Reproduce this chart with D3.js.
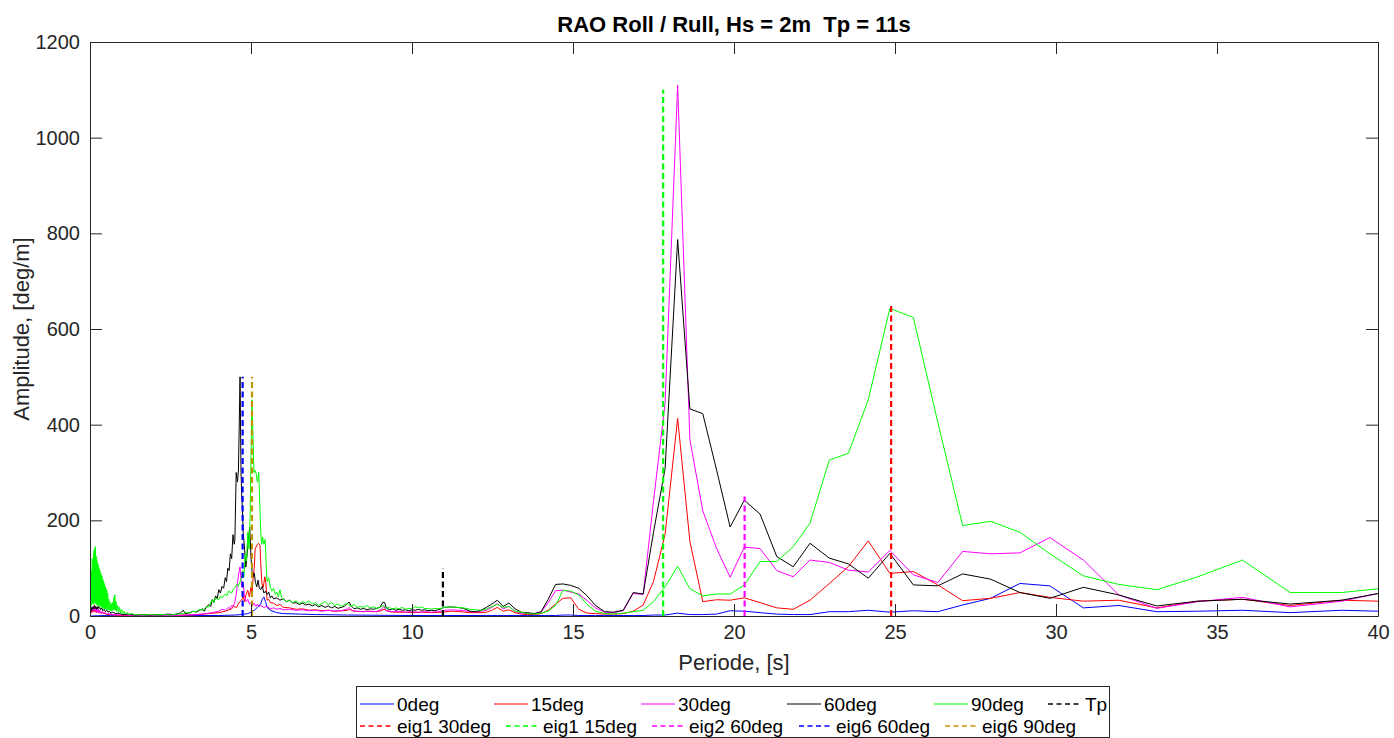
<!DOCTYPE html>
<html>
<head>
<meta charset="utf-8">
<script src="https://cdn.jsdelivr.net/npm/d3@7"></script>
<style>
  body { margin: 0; background: #fff; }
  svg { display: block; font-family: "Liberation Sans", Arial, Helvetica, sans-serif; }
</style>
</head>
<body>
<svg id="chart" width="1394" height="738"></svg>
<script>
// ---- Response amplitude data, roll, Hs = 2 m, Tp = 11 s ----
// Coarse period grid used above ~12 s (long periods)
const periodCoarse = [12.31, 12.48, 12.65, 12.83, 13.01, 13.20, 13.39, 13.59, 13.80, 14.01,
  14.23, 14.46, 14.69, 14.93, 15.18, 15.44, 15.70, 15.98, 16.26, 16.56,
  16.87, 17.18, 17.50, 17.86, 18.25, 18.63, 19.03, 19.46, 19.88, 20.32,
  20.81, 21.33, 21.84, 22.36, 22.96, 23.55, 24.17, 24.84, 25.57, 26.33,
  27.10, 27.97, 28.88, 29.81, 30.85, 31.95, 33.13, 34.40, 35.79, 37.27,
  38.87, 40.00];

const deg0Coarse = [1, 1, 1, 1, 1, 1, 1, 1, 1, 1,
  1, 1, 2, 2, 1, 1, 1, 1, 1, 1,
  1, 1, 2, 2, 6, 3, 3, 4, 11, 10,
  7, 4, 3, 3, 9, 9, 12, 8, 11, 9,
  23, 37, 68, 63, 17, 22, 9, 10, 12, 7,
  12, 10];
const deg15Coarse = [8, 12, 18, 10, 13, 7, 4, 3, 3, 5,
  12, 25, 37, 38, 14, 6, 5, 4, 4, 5,
  10, 23, 72, 171, 413, 156, 30, 34, 33, 38,
  28, 17, 14, 33, 68, 103, 157, 89, 93, 65,
  32, 37, 49, 39, 31, 33, 17, 31, 35, 22,
  33, 31];
const deg30Coarse = [12, 18, 26, 15, 20, 10, 6, 5, 5, 8,
  28, 53, 54, 50, 46, 32, 17, 8, 7, 11,
  47, 45, 240, 445, 1110, 369, 220, 141, 81, 144,
  141, 95, 82, 117, 112, 96, 92, 137, 86, 70,
  135, 130, 132, 164, 117, 44, 16, 30, 39, 19,
  31, 47];
const deg60Coarse = [18, 25, 33, 20, 27, 15, 8, 7, 5, 9,
  35, 66, 67, 64, 58, 42, 22, 9, 8, 12,
  49, 46, 175, 308, 787, 433, 423, 305, 186, 242,
  213, 124, 103, 152, 121, 109, 79, 131, 65, 63,
  88, 77, 49, 37, 60, 44, 21, 31, 35, 25,
  33, 47];
const deg90Coarse = [14, 20, 24, 18, 20, 10, 8, 5, 4, 6,
  10, 22, 54, 52, 44, 24, 10, 5, 4, 6,
  9, 12, 30, 61, 104, 57, 42, 46, 46, 65,
  114, 114, 145, 194, 326, 340, 452, 643, 624, 405,
  189, 198, 175, 130, 84, 66, 55, 82, 117, 49,
  49, 57];

// Dense [period, amplitude] samples below ~12 s (short periods)
const deg0Dense = [[0.04,0],[0.5,1],[1,0],[2,1],[3,1],[4,1],[4.5,2],[4.7,3],[4.9,5],[5.0,8],
  [5.1,12],[5.2,18],[5.3,25],[5.35,35],[5.4,40],[5.45,30],[5.5,18],[5.6,12],[5.8,7],[6.0,5],
  [6.5,4],[7,3],[8,2],[10,1],[12.14,1]];

const deg15Dense = [[0.04,6],[0.06,14],[0.08,8],[0.10,16],[0.12,9],[0.14,15],[0.16,8],[0.18,13],
  [0.20,7],[0.24,11],[0.28,6],[0.32,9],[0.36,5],[0.4,7],[0.5,4],[0.6,3],[0.8,2],[1.0,1],[2,1],
  [3,2],[3.4,3],[3.7,5],[4.0,7],[4.2,10],[4.4,15],[4.45,20],[4.55,18],[4.6,25],[4.66,30],
  [4.72,35],[4.76,41],[4.8,30],[4.85,45],[4.9,54],[4.95,40],[5.0,60],[5.03,45],[5.07,82],
  [5.1,100],[5.13,140],[5.18,148],[5.23,152],[5.28,148],[5.31,100],[5.34,68],[5.38,60],
  [5.43,82],[5.46,70],[5.5,33],[5.55,35],[5.6,28],[5.7,27],[5.8,22],[5.9,24],[6.0,18],
  [6.2,17],[6.4,14],[6.6,15],[6.8,12],[7.0,13],[7.2,11],[7.4,12],[7.6,10],[7.8,11],[8.0,12],
  [8.05,14],[8.2,10],[8.4,9],[8.6,10],[8.8,9],[9.0,10],[9.13,14],[9.3,9],[9.5,8],[9.8,8],
  [10.0,7],[10.3,8],[10.6,7],[10.9,8],[11.2,10],[11.5,9],[11.8,7],[12.14,7]];

const deg30Dense = [[0.04,8],[0.06,18],[0.08,10],[0.10,20],[0.12,12],[0.14,22],[0.16,10],
  [0.18,18],[0.20,9],[0.22,16],[0.24,8],[0.26,14],[0.28,7],[0.30,12],[0.34,6],[0.38,10],
  [0.42,5],[0.46,8],[0.5,4],[0.6,5],[0.7,3],[0.8,3],[1.0,2],[1.5,1],[2,1],[2.5,1],[3,2],
  [3.3,3],[3.6,5],[3.8,7],[4.0,10],[4.1,14],[4.2,12],[4.3,18],[4.35,15],[4.4,22],[4.45,20],
  [4.5,30],[4.54,45],[4.58,70],[4.62,88],[4.66,103],[4.69,75],[4.72,60],[4.76,68],[4.8,40],
  [4.85,30],[4.9,35],[4.95,25],[5.0,28],[5.05,22],[5.1,27],[5.15,20],[5.2,25],[5.25,20],
  [5.3,22],[5.4,18],[5.5,20],[5.6,15],[5.7,17],[5.8,14],[5.9,16],[6.0,13],[6.2,14],[6.4,12],
  [6.6,13],[6.8,11],[7.0,12],[7.2,10],[7.4,12],[7.6,10],[7.8,11],[8.0,15],[8.05,18],
  [8.15,11],[8.3,10],[8.5,9],[8.7,10],[8.9,9],[9.05,14],[9.13,20],[9.2,11],[9.4,9],[9.6,10],
  [9.8,8],[10.0,9],[10.2,8],[10.4,9],[10.6,8],[10.8,9],[11.0,12],[11.3,13],[11.6,11],
  [11.98,8],[12.14,10]];

const deg60Dense = [[0.04,10],[0.06,18],[0.08,14],[0.10,20],[0.12,15],[0.14,22],[0.16,16],
  [0.18,20],[0.20,14],[0.22,19],[0.24,15],[0.26,21],[0.28,16],[0.30,18],[0.33,13],[0.36,17],
  [0.40,11],[0.44,14],[0.48,9],[0.52,12],[0.56,8],[0.6,10],[0.65,6],[0.7,8],[0.8,5],[0.9,6],
  [1.0,3],[1.2,4],[1.4,2],[1.6,3],[1.8,2],[2.0,3],[2.2,2],[2.4,4],[2.6,3],[2.8,6],[2.9,12],
  [2.95,5],[3.1,7],[3.2,10],[3.3,8],[3.4,12],[3.5,15],[3.55,10],[3.6,18],[3.7,24],[3.75,20],
  [3.8,35],[3.85,28],[3.9,42],[3.95,36],[4.0,55],[4.05,48],[4.1,62],[4.15,58],[4.2,80],
  [4.24,72],[4.28,100],[4.32,95],[4.36,130],[4.4,120],[4.44,170],[4.48,150],[4.5,160],
  [4.54,300],[4.58,280],[4.61,305],[4.64,420],[4.66,500],[4.69,300],[4.71,257],[4.74,210],
  [4.76,173],[4.8,140],[4.84,102],[4.88,130],[4.92,160],[4.96,186],[5.0,120],[5.03,95],
  [5.07,82],[5.1,90],[5.14,70],[5.18,61],[5.22,75],[5.26,58],[5.3,55],[5.35,62],[5.4,48],
  [5.45,52],[5.5,45],[5.55,50],[5.6,38],[5.65,42],[5.7,36],[5.8,38],[5.9,33],[6.0,36],
  [6.1,30],[6.2,33],[6.3,27],[6.4,28],[6.5,24],[6.6,27],[6.7,23],[6.8,25],[6.9,21],[7.0,24],
  [7.1,19],[7.2,22],[7.3,18],[7.4,21],[7.5,17],[7.6,20],[7.7,16],[7.8,18],[7.9,20],[8.0,27],
  [8.05,29],[8.1,22],[8.2,15],[8.3,17],[8.4,14],[8.5,16],[8.6,13],[8.7,15],[8.8,14],[8.9,16],
  [9.0,18],[9.1,29],[9.15,28],[9.2,17],[9.3,13],[9.4,15],[9.5,12],[9.6,14],[9.7,12],[9.8,13],
  [9.9,11],[10.0,13],[10.1,12],[10.2,14],[10.3,12],[10.4,13],[10.5,11],[10.6,12],[10.7,11],
  [10.8,13],[10.9,15],[11.0,18],[11.2,19],[11.4,18],[11.6,16],[11.8,10],[11.98,9],[12.14,12]];

const deg90Dense = [[0.04,20],[0.05,95],[0.06,30],[0.07,120],[0.08,25],[0.09,110],[0.10,28],
  [0.11,130],[0.12,24],[0.13,138],[0.14,30],[0.15,142],[0.16,26],[0.17,145],[0.18,30],
  [0.19,125],[0.20,24],[0.21,118],[0.22,28],[0.23,112],[0.24,22],[0.25,108],[0.26,26],
  [0.27,102],[0.28,20],[0.29,98],[0.30,24],[0.31,95],[0.32,20],[0.33,90],[0.34,22],[0.35,86],
  [0.36,18],[0.37,84],[0.38,20],[0.39,78],[0.40,16],[0.41,74],[0.42,18],[0.43,70],[0.44,15],
  [0.45,66],[0.46,16],[0.47,62],[0.48,14],[0.49,58],[0.50,15],[0.52,55],[0.53,12],[0.55,48],
  [0.56,14],[0.58,36],[0.60,12],[0.62,30],[0.64,11],[0.66,26],[0.68,10],[0.70,28],[0.72,12],
  [0.74,38],[0.76,14],[0.77,44],[0.79,12],[0.81,30],[0.83,9],[0.86,22],[0.89,8],[0.92,18],
  [0.95,6],[0.98,14],[1.02,5],[1.06,10],[1.10,4],[1.15,8],[1.2,3],[1.3,5],[1.4,2],[1.5,3],
  [1.7,2],[1.9,3],[2.1,2],[2.3,3],[2.5,2],[2.7,4],[2.9,5],[3.0,8],[3.1,6],[3.2,10],[3.3,9],
  [3.4,14],[3.5,12],[3.6,18],[3.7,20],[3.8,35],[3.85,28],[3.9,38],[4.0,34],[4.05,42],[4.1,38],
  [4.2,46],[4.25,42],[4.3,52],[4.4,48],[4.45,56],[4.5,60],[4.55,66],[4.6,62],[4.65,70],
  [4.7,78],[4.74,95],[4.78,82],[4.82,130],[4.86,115],[4.9,175],[4.94,140],[4.97,200],
  [5.0,330],[5.03,452],[5.06,380],[5.09,300],[5.12,305],[5.16,298],[5.2,280],[5.24,300],
  [5.27,240],[5.3,180],[5.33,150],[5.36,165],[5.4,150],[5.44,160],[5.47,110],[5.5,72],
  [5.55,80],[5.6,60],[5.65,52],[5.7,58],[5.75,45],[5.8,50],[5.85,40],[5.9,55],[5.95,38],
  [6.0,35],[6.1,30],[6.2,33],[6.3,28],[6.4,32],[6.5,26],[6.6,30],[6.7,27],[6.8,32],[6.9,25],
  [7.0,28],[7.1,22],[7.2,26],[7.3,30],[7.4,24],[7.5,28],[7.6,22],[7.7,25],[7.8,20],[7.9,24],
  [8.0,26],[8.1,20],[8.2,24],[8.3,18],[8.4,20],[8.5,18],[8.6,22],[8.7,17],[8.8,19],[8.9,16],
  [9.0,18],[9.1,22],[9.2,16],[9.3,18],[9.4,14],[9.5,17],[9.6,15],[9.7,18],[9.8,14],[9.9,16],
  [10.0,15],[10.1,20],[10.2,17],[10.3,19],[10.4,15],[10.5,16],[10.6,14],[10.7,16],[10.8,15],
  [10.9,16],[11.0,18],[11.2,19],[11.4,18],[11.6,17],[11.8,14],[12.0,13],[12.15,12]];

// Series names and colours (plot order)
const seriesNames = ["0deg", "15deg", "30deg", "60deg", "90deg"];
const seriesColors = ["#0000ff", "#ff0000", "#ff00ff", "#000000", "#00ff00"];
const seriesDense = [deg0Dense, deg15Dense, deg30Dense, deg60Dense, deg90Dense];
const seriesCoarse = [deg0Coarse, deg15Coarse, deg30Coarse, deg60Coarse, deg90Coarse];

// Vertical markers: peak period and eigen-periods (period, line height)
const markerNames = ["Tp", "eig1 30deg", "eig1 15deg", "eig2 60deg", "eig6 60deg", "eig6 90deg"];
const markerPeriods = [10.96, 24.88, 17.8, 20.33, 4.74, 5.03];
const markerHeights = [100, 650, 1100, 250, 500, 500];
const markerColors = ["#000000", "#ff0000", "#00ff00", "#ff00ff", "#0000ff", "#bf9600"];

const xTicks = [0, 5, 10, 15, 20, 25, 30, 35, 40];
const yTicks = [0, 200, 400, 600, 800, 1000, 1200];

// ---- Layout ----
const svg = d3.select("#chart");
const plot = { left: 90, right: 1378, top: 42, bottom: 616 };
const axisColor = "#262626";

const x = d3.scaleLinear().domain([0, 40]).range([plot.left, plot.right]);
const y = d3.scaleLinear().domain([0, 1200]).range([plot.bottom, plot.top]);

svg.append("rect").attr("width", 1394).attr("height", 738).attr("fill", "#fff");

svg.append("defs").append("clipPath").attr("id", "plotClip")
  .append("rect")
  .attr("x", plot.left).attr("y", plot.top)
  .attr("width", plot.right - plot.left).attr("height", plot.bottom - plot.top);

const g = svg.append("g").attr("clip-path", "url(#plotClip)");

const line = d3.line().x(d => x(d[0])).y(d => y(d[1]));

seriesNames.forEach((name, i) => {
  const pts = seriesDense[i].concat(periodCoarse.map((p, k) => [p, seriesCoarse[i][k]]));
  g.append("path")
    .datum(pts)
    .attr("fill", "none")
    .attr("stroke", seriesColors[i])
    .attr("stroke-width", 1)
    .attr("stroke-linejoin", "round")
    .attr("d", line);
});

markerNames.forEach((name, i) => {
  g.append("line")
    .attr("x1", x(markerPeriods[i])).attr("x2", x(markerPeriods[i]))
    .attr("y1", y(0)).attr("y2", y(markerHeights[i]))
    .attr("stroke", markerColors[i])
    .attr("stroke-width", 2.2)
    .attr("stroke-dasharray", "6,3.5");
});

// ---- Axes (box with inward ticks on all sides) ----
function styleAxis(sel) {
  sel.selectAll("path").attr("stroke", axisColor);
  sel.selectAll("line").attr("stroke", axisColor);
  sel.selectAll("text").attr("fill", axisColor).attr("font-size", 20)
    .attr("font-family", "'Liberation Sans', Arial, sans-serif");
}
const plain = d3.format("d");

svg.append("g").attr("transform", `translate(0,${plot.bottom})`)
  .call(d3.axisBottom(x).tickValues(xTicks).tickFormat(plain).tickSizeInner(-12).tickSizeOuter(0).tickPadding(9))
  .call(styleAxis);
svg.append("g").attr("transform", `translate(0,${plot.top})`)
  .call(d3.axisTop(x).tickValues(xTicks).tickSizeInner(-12).tickSizeOuter(0).tickFormat(""))
  .call(styleAxis);
svg.append("g").attr("transform", `translate(${plot.left},0)`)
  .call(d3.axisLeft(y).tickValues(yTicks).tickFormat(plain).tickSizeInner(-12).tickSizeOuter(0).tickPadding(10))
  .call(styleAxis);
svg.append("g").attr("transform", `translate(${plot.right},0)`)
  .call(d3.axisRight(y).tickValues(yTicks).tickSizeInner(-12).tickSizeOuter(0).tickFormat(""))
  .call(styleAxis);

// ---- Titles ----
svg.append("text")
  .attr("x", (plot.left + plot.right) / 2).attr("y", 32)
  .attr("text-anchor", "middle").attr("font-weight", "bold").attr("font-size", 22)
  .attr("fill", "#000")
  .style("white-space", "pre")
  .text("RAO Roll / Rull, Hs = 2m  Tp = 11s");

svg.append("text")
  .attr("x", (plot.left + plot.right) / 2).attr("y", 670)
  .attr("text-anchor", "middle").attr("font-size", 22).attr("fill", axisColor)
  .text("Periode, [s]");

svg.append("text")
  .attr("transform", `translate(29,${(plot.top + plot.bottom) / 2}) rotate(-90)`)
  .attr("text-anchor", "middle").attr("font-size", 22).attr("fill", axisColor)
  .text("Amplitude, [deg/m]");

// ---- Legend ----
const legend = svg.append("g");
legend.append("rect")
  .attr("x", 356.5).attr("y", 686.5).attr("width", 753).attr("height", 51)
  .attr("fill", "#fff").attr("stroke", axisColor).attr("stroke-width", 1);

const legendRows = [
  { y: 704, textX: [397, 531, 678, 824, 971, 1085] },
  { y: 726, textX: [397, 543, 689, 836, 982] }
];
const legendItems = seriesNames.map((n, i) => ({ name: n, color: seriesColors[i], dashed: false }))
  .concat(markerNames.map((n, i) => ({ name: n, color: markerColors[i], dashed: true })));

let idx = 0;
legendRows.forEach(row => {
  row.textX.forEach(tx => {
    const item = legendItems[idx++];
    legend.append("line")
      .attr("x1", tx - 37).attr("x2", tx - 3)
      .attr("y1", row.y).attr("y2", row.y)
      .attr("stroke", item.color)
      .attr("stroke-width", item.dashed ? 1.6 : 1)
      .attr("stroke-dasharray", item.dashed ? "5,3.5" : null);
    legend.append("text")
      .attr("x", tx).attr("y", row.y + 7)
      .attr("font-size", 19).attr("fill", "#000")
      .text(item.name);
  });
});
</script>
</body>
</html>
